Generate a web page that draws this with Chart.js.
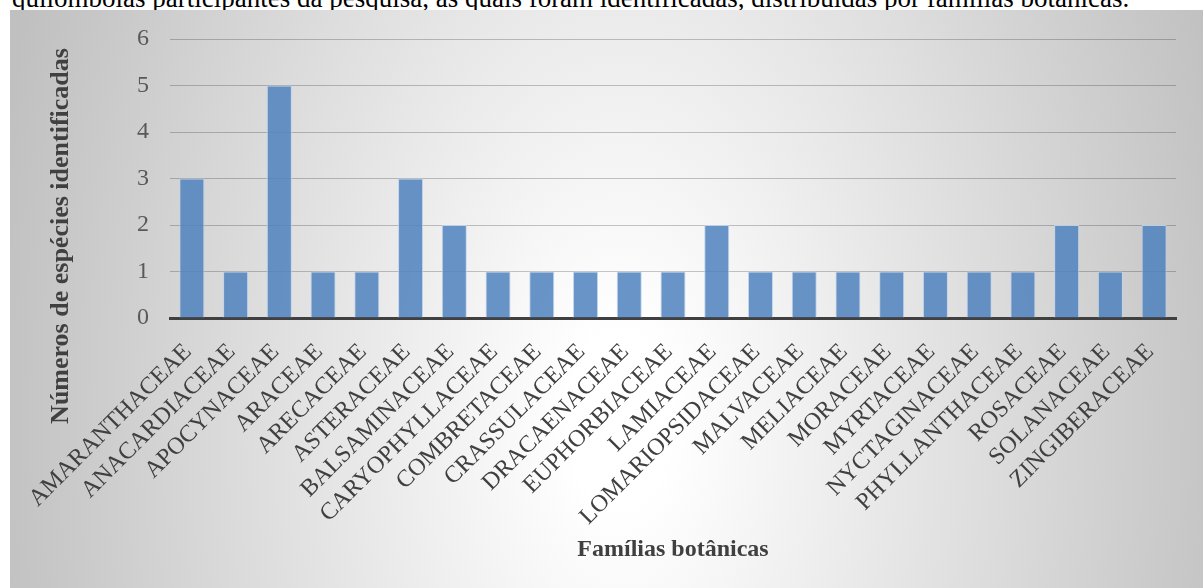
<!DOCTYPE html>
<html>
<head>
<meta charset="utf-8">
<script src="https://cdn.jsdelivr.net/npm/chart.js@4.4.1/dist/chart.umd.min.js"></script>
<style>
  html, body { margin: 0; padding: 0; background: #ffffff; }
  body { width: 1203px; height: 588px; position: relative; overflow: hidden; }
  #caption {
    position: absolute; left: 12px; top: -15px;
    font-family: "Liberation Serif", "Times New Roman", serif;
    font-size: 27px; line-height: 27px; color: #000; white-space: nowrap;
  }
  #box {
    position: absolute; left: 10px; top: 10px; width: 1193px; height: 578px;
    background: radial-gradient(ellipse 640px 1100px at 610px 410px, #ffffff 0%, #ffffff 8%, #c0c0c0 100%);
  }
  #wrap { position: absolute; left: 0; top: 0; width: 1203px; height: 588px; }
</style>
</head>
<body>
<div id="caption">quilombolas participantes da pesquisa, as quais foram identificadas, distribuídas por famílias botânicas.</div>
<div id="box"></div>
<div id="wrap"><canvas id="c" width="1203" height="588"></canvas></div>
<script>
const families = ["AMARANTHACEAE","ANACARDIACEAE","APOCYNACEAE","ARACEAE","ARECACEAE","ASTERACEAE","BALSAMINACEAE","CARYOPHYLLACEAE","COMBRETACEAE","CRASSULACEAE","DRACAENACEAE","EUPHORBIACEAE","LAMIACEAE","LOMARIOPSIDACEAE","MALVACEAE","MELIACEAE","MORACEAE","MYRTACEAE","NYCTAGINACEAE","PHYLLANTHACEAE","ROSACEAE","SOLANACEAE","ZINGIBERACEAE"];
const speciesCount = [3,1,5,1,1,3,2,1,1,1,1,1,2,1,1,1,1,1,1,1,2,1,2];
const yTicks = [0,1,2,3,4,5,6];
const xTitle = "Famílias botânicas";
const yTitle = "Números de espécies identificadas";

const SERIF = '"Liberation Serif", "Times New Roman", serif';

const titlesPlugin = {
  id: 'axisTitlesCustom',
  afterDraw(chart) {
    const ctx = chart.ctx;
    const ca = chart.chartArea;
    ctx.save();
    ctx.fillStyle = '#404040';
    ctx.textAlign = 'center';
    ctx.textBaseline = 'alphabetic';
    ctx.font = 'bold 24px ' + SERIF;
    ctx.fillText(xTitle, (ca.left + ca.right) / 2, 556);
    ctx.font = 'bold 26px ' + SERIF;
    ctx.translate(68, 236);
    ctx.rotate(-Math.PI / 2);
    ctx.fillText(yTitle, 0, 0);
    ctx.restore();
  }
};

new Chart(document.getElementById('c'), {
  type: 'bar',
  data: {
    labels: families,
    datasets: [{
      data: speciesCount,
      backgroundColor: 'rgba(79,129,189,0.85)',
      borderColor: 'rgba(190,210,236,0.9)',
      borderWidth: 1,
      barPercentage: 0.572,
      categoryPercentage: 1.0
    }]
  },
  options: {
    responsive: false,
    animation: false,
    layout: { padding: { left: 0, top: 39, right: 27, bottom: 0 } },
    plugins: { legend: { display: false }, tooltip: { enabled: false }, title: { display: false } },
    scales: {
      x: {
        grid: { display: false, drawTicks: false },
        border: { display: true, color: '#404040', width: 3 },
        ticks: {
          autoSkip: false, minRotation: 45, maxRotation: 45,
          color: '#404040', padding: 20, labelOffset: -4,
          font: { family: SERIF, size: 24 }
        },
        afterFit(scale) { scale.height = 270; }
      },
      y: {
        min: 0, max: 6,
        afterBuildTicks(scale) { scale.ticks = yTicks.map(v => ({ value: v })); },
        grid: { color: 'rgba(0,0,0,0.22)', lineWidth: 1, drawTicks: false },
        border: { display: false },
        ticks: {
          color: '#595959', padding: 21,
          font: { family: SERIF, size: 24 }
        },
        afterFit(scale) { scale.width = 170; }
      }
    }
  },
  plugins: [titlesPlugin]
});
</script>
</body>
</html>
